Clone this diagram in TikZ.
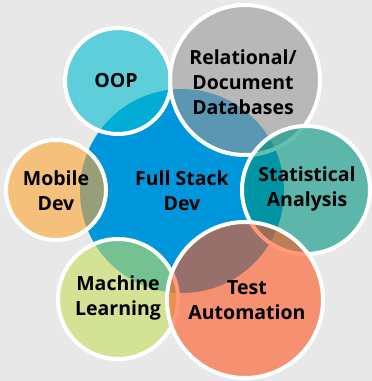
\documentclass[tikz,border=0pt]{standalone}
\usepackage{fontspec}
\setmainfont{Open Sans}
\begin{document}
\begin{tikzpicture}[x=1pt,y=-1pt,
  lbl/.style={font=\fontsize{19.5pt}{25pt}\selectfont\bfseries, align=center, text=black},
  sat/.style={circle, draw=white, line width=4pt, fill opacity=0.6, text opacity=1, inner sep=0pt},
]
\definecolor{bg}{RGB}{232,232,232}
\definecolor{cmain}{RGB}{0,150,220}
\definecolor{coop}{RGB}{2,189,209}
\definecolor{crel}{RGB}{152,152,152}
\definecolor{cstat}{RGB}{0,149,129}
\definecolor{ctest}{RGB}{254,87,32}
\definecolor{cml}{RGB}{197,222,95}
\definecolor{cmob}{RGB}{254,164,52}
\fill[bg] (0,0) rectangle (372,381);
\useasboundingbox (0,0) rectangle (372,381);
\node[circle, fill=cmain, minimum size=204pt, inner sep=0pt] (main) at (182,191) {};
\node[sat, fill=coop, minimum size=106pt] (oop) at (118,81) {};
\node[sat, fill=crel, minimum size=150pt] (rel) at (245,80) {};
\node[sat, fill=cstat, minimum size=128pt] (stat) at (306,190) {};
\node[sat, fill=cml, minimum size=120pt] (ml) at (118,299) {};
\node[sat, fill=ctest, minimum size=156pt] (test) at (245,300) {};
\node[sat, fill=cmob, minimum size=100pt] (mob) at (56,190) {};
\node[lbl] (tmain) at (182,191) {Full Stack\\Dev};
\node[lbl] (toop) at (116,81) {OOP};
\node[lbl] (trel) at (243,82) {Relational/\\Document\\Databases};
\node[lbl] (tstat) at (307,189) {Statistical\\Analysis};
\node[lbl] (tml) at (118,298) {Machine\\Learning};
\node[lbl] (ttest) at (247,300) {Test\\Automation};
\node[lbl] (tmob) at (56,191) {Mobile\\Dev};
\end{tikzpicture}
\end{document}
